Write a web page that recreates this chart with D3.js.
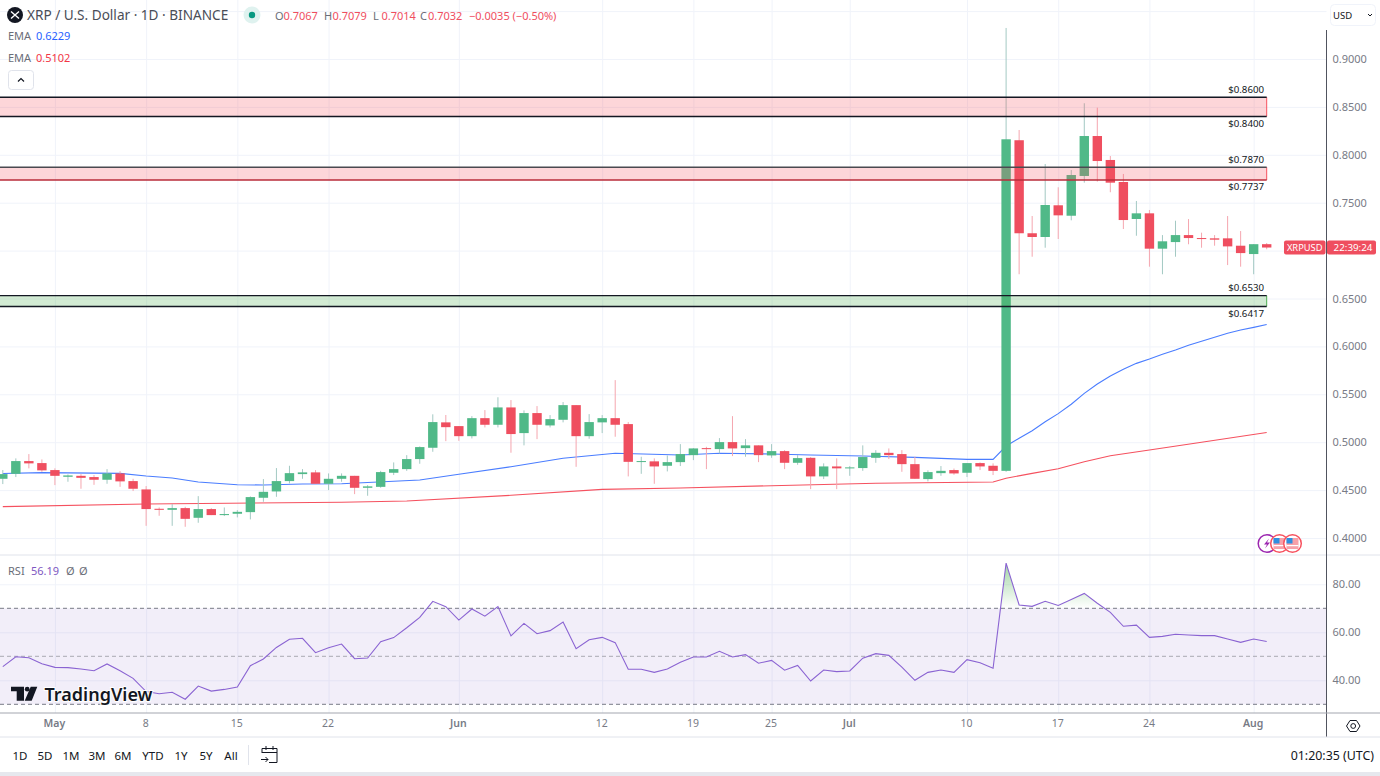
<!DOCTYPE html>
<html>
<head>
<meta charset="utf-8">
<script src="https://cdn.jsdelivr.net/npm/d3@7/dist/d3.min.js"></script>
<style>
  html, body { margin: 0; padding: 0; background: #fff; overflow: hidden; }
  text { font-family: "Noto Sans", sans-serif; }
  .domain { display: none; }
</style>
</head>
<body>
<div id="chart"></div>
<script>
// daily candles, 27 Apr to 2 Aug
const opens = [.4618,.4670,.4803,.4782,.4709,.4639,.4649,.4636,.4608,.4674,.4594,.4507,.4305,.4294,.4312,.4211,.4302,.4239,.4253,.4270,.4420,.4486,.4594,.4667,.4685,.4566,.4618,.4649,.4524,.4534,.4681,.4719,.4824,.4942,.5207,.5168,.5063,.5251,.5182,.5363,.5095,.5304,.5175,.5234,.5387,.5063,.5207,.5251,.5189,.4795,.4800,.4754,.4792,.4865,.4938,.4928,.5001,.4938,.4967,.4862,.4907,.4785,.4837,.4643,.4747,.4727,.4730,.4837,.4889,.4876,.4771,.4615,.4677,.4709,.4681,.4782,.4754,.4701,.8152,.7181,.7142,.7473,.7364,.7779,.8196,.7946,.7716,.7330,.7389,.7020,.7089,.7162,.7131,.7128,.7128,.7051,.6964,.7067];
const highs = [.4709,.4831,.4876,.4820,.4727,.4664,.4667,.4657,.4719,.4698,.4618,.4542,.4319,.4354,.4326,.4437,.4312,.4319,.4291,.4434,.4615,.4730,.4754,.4719,.4709,.4674,.4674,.4649,.4552,.4701,.4789,.4865,.4956,.5291,.5284,.5168,.5272,.5335,.5469,.5440,.5332,.5377,.5283,.5419,.5387,.5293,.5283,.5648,.5210,.4848,.4831,.4862,.4980,.4938,.4952,.5043,.5272,.5032,.4967,.4980,.4917,.4865,.4845,.4779,.4831,.4751,.4967,.4917,.4935,.4917,.4848,.4706,.4751,.4725,.4782,.4789,.4779,.9324,.8259,.7361,.7904,.7661,.7841,.8538,.8492,.7987,.7800,.7518,.7424,.7162,.7312,.7329,.7187,.7162,.7361,.7204,.7067,.7079];
const lows = [.4563,.4636,.4727,.4691,.4552,.4587,.4514,.4555,.4566,.4534,.4490,.4127,.4232,.4127,.4117,.4159,.4239,.4229,.4215,.4194,.4378,.4430,.4570,.4618,.4566,.4500,.4587,.4458,.4441,.4524,.4657,.4701,.4775,.4900,.5011,.5014,.5039,.5154,.5154,.4890,.4967,.5032,.5154,.5207,.4743,.5036,.5095,.5057,.4643,.4670,.4566,.4695,.4751,.4813,.4719,.4883,.4855,.4848,.4792,.4837,.4719,.4764,.4510,.4615,.4510,.4649,.4701,.4785,.4824,.4691,.4618,.4591,.4649,.4660,.4636,.4709,.4657,.4691,.6753,.6936,.7030,.7121,.7316,.7709,.7720,.7609,.7225,.7155,.6832,.6753,.6936,.7066,.7030,.7051,.6849,.6832,.6753,.7014];
const closes = [.4667,.4803,.4779,.4706,.4649,.4653,.4628,.4608,.4674,.4591,.4514,.4302,.4294,.4312,.4200,.4302,.4239,.4250,.4273,.4427,.4482,.4594,.4677,.4685,.4566,.4618,.4649,.4524,.4539,.4688,.4719,.4824,.4949,.5210,.5157,.5063,.5251,.5182,.5363,.5085,.5304,.5182,.5241,.5387,.5063,.5210,.5251,.5182,.4795,.4803,.4747,.4792,.4876,.4935,.4928,.5001,.4935,.4967,.4865,.4907,.4785,.4834,.4643,.4747,.4727,.4737,.4845,.4889,.4865,.4771,.4618,.4688,.4701,.4674,.4782,.4747,.4701,.8162,.7181,.7142,.7476,.7368,.7789,.8196,.7935,.7709,.7319,.7389,.7020,.7097,.7162,.7131,.7121,.7114,.7044,.6974,.7067,.7032];

// EMA lines, readings at the candles where the line could be read
const emaFastDays = [0,3,9,11,13,15,18,20,23,26,32,35,39,43,47,52,55,59,62,66,70,74,76,77,78,79,80,81,82,83,84,85,86,87,88,89,90,91,92,93,94,95,96,97];
const emaFastValues = [.4673,.4682,.4675,.4647,.4626,.4585,.4556,.4553,.4564,.4567,.4605,.4665,.4744,.4832,.4884,.4866,.4884,.4877,.4866,.4856,.4842,.4821,.4821,.4960,.5041,.5120,.5214,.5298,.5396,.5510,.5607,.5691,.5761,.5823,.5868,.5917,.5962,.6011,.6053,.6095,.6137,.6172,.6199,.6229];
const emaSlowDays = [0,11,26,31,39,46,52,59,67,76,77,79,81,83,85,88,92,97];
const emaSlowValues = [.4327,.4355,.4373,.4386,.4446,.4508,.4522,.4546,.4571,.4585,.4623,.4675,.4723,.4796,.4859,.4919,.4999,.5102];

const rsiValues = [45.7,49.8,49.4,46.9,45.4,45.3,44.7,44.0,46.8,44.0,40.8,35.3,34.4,35.0,32.1,37.6,35.5,36.2,37.2,46.1,48.9,53.7,57.1,57.5,51.5,53.6,55.1,49.0,49.3,56.1,57.8,61.9,66.2,72.9,70.7,65.1,69.7,66.7,70.7,58.5,63.7,59.4,60.7,64.3,53.2,56.9,57.9,55.7,44.6,44.6,43.3,44.7,47.5,49.7,49.7,52.1,49.7,50.7,47.1,48.3,44.2,46.2,39.7,44.3,43.6,43.9,49.2,51.1,50.4,45.5,40.0,43.3,44.3,43.3,48.6,47.3,45.0,88.8,71.4,70.8,72.9,71.2,73.7,76.2,72.1,68.3,62.5,63.0,57.9,58.3,59.2,58.9,58.6,58.6,57.2,55.8,57.2,56.19];

const priceTicks = [.95,.9,.85,.8,.75,.7,.65,.6,.55,.5,.45,.4];
const priceTickLabels = [.9,.85,.8,.75,.65,.6,.55,.5,.45,.4];
const rsiTicks = [80,60,40];
const rsiBands = [70,50,30];
const timeTickDays = [4,11,18,25,35,46,53,59,65,74,81,88,96];
const timeTickLabels = ["May","8","15","22","Jun","12","19","25","Jul","10","17","24","Aug"];
const rangeButtons = ["1D","5D","1M","3M","6M","YTD","1Y","5Y","All"];

const zoneTops = [.86,.787,.653];
const zoneBottoms = [.84,.7737,.6417];
const zoneTopLabels = ["$0.8600","$0.7870","$0.6530"];
const zoneBottomLabels = ["$0.8400","$0.7737","$0.6417"];
const zoneFills = ["rgba(247,82,95,.24)","rgba(247,82,95,.24)","rgba(76,175,80,.25)"];
const zoneEdges = ["#f7525f","#f7525f","#4caf50"];
const zoneTopLines = ["#131722","#4a4a50","#131722"];
const zoneBottomLines = ["#131722","#b92c3a","#131722"];

const upColor = "#50b988";
const downColor = "#ef4e5f";
const upWick = "#a3c9c3";
const downWick = "#f5a6af";
const gridColor = "#f0f3fa";
const axisText = "#787b86";
const chartRight = 1326.5;

const x = d3.scaleLinear().domain([0, 97]).range([2.8, 1266.7]);
const y = d3.scaleLinear().domain([.4, .9]).range([538, 59]);
const yRsi = d3.scaleLinear().domain([30, 80]).range([704.3, 584.3]);

const svg = d3.select("#chart").append("svg")
  .attr("width", 1380)
  .attr("height", 776)
  .style("display", "block");

svg.append("rect").attr("width", 1380).attr("height", 776).attr("fill", "#fff");

// grid
svg.append("g")
  .attr("transform", "translate(0,713)")
  .call(d3.axisBottom(x).tickValues(timeTickDays).tickSize(-713).tickFormat(""))
  .selectAll("line").attr("stroke", gridColor);
svg.append("g")
  .call(d3.axisLeft(y).tickValues(priceTicks).tickSize(-chartRight).tickFormat(""))
  .selectAll("line").attr("stroke", gridColor);
svg.append("g")
  .call(d3.axisLeft(yRsi).tickValues(rsiTicks).tickSize(-chartRight).tickFormat(""))
  .selectAll("line").attr("stroke", gridColor);

// EMA
const emaLine = d3.line().x(d => x(d[0])).y(d => y(d[1]));
svg.append("path")
  .attr("d", emaLine(d3.zip(emaFastDays, emaFastValues)))
  .attr("fill", "none").attr("stroke", "#4a7dff").attr("stroke-width", 1.1);
svg.append("path")
  .attr("d", emaLine(d3.zip(emaSlowDays, emaSlowValues)))
  .attr("fill", "none").attr("stroke", "#f5515f").attr("stroke-width", 1.1);

// candles
const candles = svg.append("g").selectAll("g")
  .data(d3.range(closes.length))
  .join("g");
candles.append("line")
  .attr("x1", d => x(d)).attr("x2", d => x(d))
  .attr("y1", d => y(highs[d])).attr("y2", d => y(lows[d]))
  .attr("stroke", d => closes[d] >= opens[d] ? upWick : downWick);
candles.append("rect")
  .attr("x", d => x(d) - 4.7)
  .attr("width", 9.4)
  .attr("y", d => y(Math.max(opens[d], closes[d])))
  .attr("height", d => Math.max(1, Math.abs(y(opens[d]) - y(closes[d]))))
  .attr("fill", d => closes[d] >= opens[d] ? upColor : downColor);

// support and resistance zones
const zoneIdx = d3.range(zoneTops.length);
const zoneRight = x(97);
svg.append("g").selectAll("rect")
  .data(zoneIdx)
  .join("rect")
  .attr("x", 0).attr("width", zoneRight)
  .attr("y", d => y(zoneTops[d]))
  .attr("height", d => y(zoneBottoms[d]) - y(zoneTops[d]))
  .attr("fill", d => zoneFills[d]);
svg.append("g").selectAll("line")
  .data(zoneIdx)
  .join("line")
  .attr("x1", zoneRight).attr("x2", zoneRight)
  .attr("y1", d => y(zoneTops[d])).attr("y2", d => y(zoneBottoms[d]))
  .attr("stroke", d => zoneEdges[d]);
svg.append("g").selectAll("line")
  .data(zoneIdx)
  .join("line")
  .attr("x1", 0).attr("x2", zoneRight)
  .attr("y1", d => y(zoneTops[d])).attr("y2", d => y(zoneTops[d]))
  .attr("stroke", d => zoneTopLines[d]).attr("stroke-width", 1.4);
svg.append("g").selectAll("line")
  .data(zoneIdx)
  .join("line")
  .attr("x1", 0).attr("x2", zoneRight)
  .attr("y1", d => y(zoneBottoms[d])).attr("y2", d => y(zoneBottoms[d]))
  .attr("stroke", d => zoneBottomLines[d]).attr("stroke-width", 1.4);
svg.append("g").selectAll("text")
  .data(zoneIdx)
  .join("text")
  .attr("x", 1264).attr("y", d => y(zoneTops[d]) - 4.5)
  .attr("text-anchor", "end").attr("font-size", 9.7).attr("fill", "#131722")
  .text(d => zoneTopLabels[d]);
svg.append("g").selectAll("text")
  .data(zoneIdx)
  .join("text")
  .attr("x", 1264).attr("y", d => y(zoneBottoms[d]) + 10.5)
  .attr("text-anchor", "end").attr("font-size", 9.7).attr("fill", "#131722")
  .text(d => zoneBottomLabels[d]);

// rsi pane
svg.append("line")
  .attr("x1", 0).attr("x2", 1380).attr("y1", 555).attr("y2", 555)
  .attr("stroke", "#e0e3eb");
svg.append("rect")
  .attr("x", 0).attr("width", chartRight)
  .attr("y", yRsi(70)).attr("height", yRsi(30) - yRsi(70))
  .attr("fill", "#7e57c2").attr("fill-opacity", .1);

const defs = svg.append("defs");
const rsiGrad = defs.append("linearGradient")
  .attr("id", "rsiGrad").attr("gradientUnits", "userSpaceOnUse")
  .attr("x1", 0).attr("x2", 0).attr("y1", yRsi(88)).attr("y2", yRsi(70));
rsiGrad.append("stop").attr("offset", 0).attr("stop-color", "#4caf50").attr("stop-opacity", .5);
rsiGrad.append("stop").attr("offset", 1).attr("stop-color", "#4caf50").attr("stop-opacity", 0);
defs.append("clipPath").attr("id", "aboveBand").append("rect")
  .attr("x", 0).attr("width", chartRight).attr("y", 556).attr("height", yRsi(70) - 556);
svg.append("path")
  .attr("d", d3.area().x((d, i) => x(i)).y0(yRsi(70)).y1(d => yRsi(d))(rsiValues))
  .attr("fill", "url(#rsiGrad)")
  .attr("clip-path", "url(#aboveBand)");

svg.append("g").selectAll("line")
  .data(rsiBands)
  .join("line")
  .attr("x1", 0).attr("x2", chartRight)
  .attr("y1", d => yRsi(d)).attr("y2", d => yRsi(d))
  .attr("stroke", d => d === 50 ? "#a9a9b2" : "#787b86")
  .attr("stroke-dasharray", "4 3");
svg.append("path")
  .attr("d", d3.line().x((d, i) => x(i)).y(d => yRsi(d))(rsiValues))
  .attr("fill", "none").attr("stroke", "#8a63d2").attr("stroke-width", 1.1);

// axes
const priceAxis = svg.append("g")
  .attr("transform", `translate(${chartRight},0)`)
  .call(d3.axisRight(y).tickValues(priceTickLabels).tickSize(0).tickPadding(6).tickFormat(d3.format(".4f")));
const rsiAxis = svg.append("g")
  .attr("transform", `translate(${chartRight},0)`)
  .call(d3.axisRight(yRsi).tickValues(rsiTicks).tickSize(0).tickPadding(6).tickFormat(d3.format(".2f")));
[priceAxis, rsiAxis].forEach(a => a.selectAll("text")
  .attr("font-size", 11).attr("fill", axisText).style("font-family", '"Noto Sans", sans-serif'));

const timeAxis = svg.append("g")
  .attr("transform", "translate(0,713)")
  .call(d3.axisBottom(x).tickValues(timeTickDays).tickSize(0).tickPadding(7)
    .tickFormat((d, i) => timeTickLabels[i]));
timeAxis.selectAll("text")
  .attr("dx", -1)
  .attr("font-size", 10.5).attr("fill", axisText)
  .attr("font-weight", (d, i) => isNaN(timeTickLabels[i]) ? 600 : 400)
  .style("font-family", '"Noto Sans", sans-serif');

svg.append("line")
  .attr("x1", chartRight).attr("x2", chartRight).attr("y1", 30).attr("y2", 737)
  .attr("stroke", "#50535e");
svg.append("line")
  .attr("x1", 0).attr("x2", 1380).attr("y1", 713).attr("y2", 713)
  .attr("stroke", "#a3a6af");
svg.append("line")
  .attr("x1", 0).attr("x2", 1380).attr("y1", 737).attr("y2", 737)
  .attr("stroke", "#e0e3eb");
svg.append("rect")
  .attr("x", 0).attr("y", 772).attr("width", 1380).attr("height", 4)
  .attr("fill", "#e6e8ee");

// last price tag
const lastY = y(closes[closes.length - 1]);
svg.append("rect")
  .attr("x", 1284).attr("y", lastY - 7).attr("width", 41.5).attr("height", 14).attr("rx", 2)
  .attr("fill", downColor);
svg.append("rect")
  .attr("x", 1327).attr("y", lastY - 7).attr("width", 49).attr("height", 14).attr("rx", 2)
  .attr("fill", downColor);
svg.append("text")
  .attr("x", 1304.7).attr("y", lastY + 3.5).attr("text-anchor", "middle")
  .attr("font-size", 9.3).attr("fill", "#fff").text("XRPUSD");
svg.append("text")
  .attr("x", 1353).attr("y", lastY + 3.5).attr("text-anchor", "middle")
  .attr("font-size", 9.8).attr("fill", "#fff").text("22:39:24");

// legend
function label(px, py, str, color, size) {
  return svg.append("text")
    .attr("x", px).attr("y", py)
    .attr("font-size", size || 11)
    .attr("fill", color)
    .text(str);
}
svg.append("circle").attr("cx", 15).attr("cy", 15).attr("r", 8).attr("fill", "#131722");
svg.append("path").attr("d", "M11 11.5L19 18.5M19 11.5L11 18.5")
  .attr("stroke", "#fff").attr("stroke-width", 1.4).attr("fill", "none");
label(27, 19.5, "XRP / U.S. Dollar · 1D · BINANCE", "#4a4d57", 13.6);
svg.append("circle").attr("cx", 252).attr("cy", 15).attr("r", 8.5).attr("fill", "#dff2ef");
svg.append("circle").attr("cx", 252).attr("cy", 15).attr("r", 3.2).attr("fill", "#089981");

const ohlcKeys = ["O", "H", "L", "C"];
const ohlcKeyX = [275, 324, 373, 420];
const ohlcTexts = ["0.7067", "0.7079", "0.7014", "0.7032"];
ohlcKeys.forEach((k, i) => {
  label(ohlcKeyX[i], 19.5, k, "#6a6d78");
  label(ohlcKeyX[i] + (k === "C" ? 8 : 8.5), 19.5, ohlcTexts[i], downColor);
});
label(469, 19.5, "−0.0035 (−0.50%)", downColor);

label(8, 40, "EMA", "#6a6d78");
label(36, 40, "0.6229", "#2962ff");
label(8, 62, "EMA", "#6a6d78");
label(36, 62, "0.5102", "#f23645");
svg.append("rect")
  .attr("x", 8.5).attr("y", 70.5).attr("width", 25).attr("height", 19).attr("rx", 3)
  .attr("fill", "#fff").attr("stroke", "#e0e3eb");
svg.append("path").attr("d", "M18 81.5L21 78.5L24 81.5")
  .attr("fill", "none").attr("stroke", "#131722").attr("stroke-width", 1.2);

label(8, 574.5, "RSI", "#6a6d78");
label(31, 574.5, "56.19", "#7e57c2");
label(66, 574.5, "Ø", "#6a6d78");
label(79, 574.5, "Ø", "#6a6d78");

// currency button
svg.append("rect")
  .attr("x", 1330.5).attr("y", 4.5).attr("width", 45).attr("height", 21).attr("rx", 4)
  .attr("fill", "#fff").attr("stroke", "#f0f3fa");
label(1333, 18.5, "USD", "#131722", 9.5);
svg.append("path").attr("d", "M1368 14L1370 16L1372 14")
  .attr("fill", "none").attr("stroke", "#131722");

// event markers
const eventX = [1267, 1279.5, 1292.5];
const eventColors = ["#9c27b0", "#f7525f", "#f7525f"];
eventX.forEach((ex, i) => {
  svg.append("circle").attr("cx", ex).attr("cy", 543.5).attr("r", 8.8)
    .attr("fill", "#fff").attr("stroke", eventColors[i]).attr("stroke-width", 1.5);
  if (i === 0) {
    svg.append("path").attr("d", `M${ex + 2} 538.5L${ex - 3} 544.5H${ex}L${ex - 2} 548.5L${ex + 3} 542.5H${ex}Z`)
      .attr("fill", "#9c27b0");
  } else {
    svg.append("rect").attr("x", ex - 6).attr("y", 538).attr("width", 12).attr("height", 11)
      .attr("fill", "#f7a1a9");
    svg.append("rect").attr("x", ex - 6).attr("y", 538).attr("width", 6).attr("height", 5.5)
      .attr("fill", "#2f8fe0");
    svg.append("rect").attr("x", ex - 6).attr("y", 545).attr("width", 12).attr("height", 1.2)
      .attr("fill", "#fff");
  }
});

// watermark
const logo = svg.append("g").attr("transform", "translate(11,686)");
logo.append("path")
  .attr("d", "M0 .7H13V14.7H5.7V5.3H0ZM19.7 .7H26.3L20.7 14.7H13.7Z")
  .attr("fill", "#131722");
logo.append("circle").attr("cx", 16.2).attr("cy", 3.2).attr("r", 2.4).attr("fill", "#131722");
logo.append("text")
  .attr("x", 33.5).attr("y", 14.5)
  .attr("font-size", 18).attr("font-weight", 600).attr("fill", "#131722")
  .attr("stroke", "#fff").attr("stroke-width", 2).attr("paint-order", "stroke")
  .text("TradingView");

// bottom toolbar
const rangeButtonX = [20, 45, 71, 97, 123, 153, 181, 206, 231];
rangeButtons.forEach((b, i) => {
  label(rangeButtonX[i], 759.5, b, "#131722", 11.5).attr("text-anchor", "middle");
});
svg.append("line").attr("x1", 248.5).attr("x2", 248.5).attr("y1", 745).attr("y2", 765)
  .attr("stroke", "#e0e3eb");
svg.append("path")
  .attr("d", "M262 753V748.5H277V762.5H269M262 752.5H277M266 746V750M273 746V750M261 759.5H268M265.5 757L268 759.5L265.5 762")
  .attr("fill", "none").attr("stroke", "#131722");
label(1374, 759.5, "01:20:35 (UTC)", "#131722", 12.4).attr("text-anchor", "end");
svg.append("path")
  .attr("d", "M1350 720.5H1356.5L1360 726L1356.5 731.5H1350L1346.5 726Z")
  .attr("fill", "none").attr("stroke", "#131722");
svg.append("circle").attr("cx", 1353.2).attr("cy", 726).attr("r", 2.4)
  .attr("fill", "none").attr("stroke", "#131722");
</script>
</body>
</html>
